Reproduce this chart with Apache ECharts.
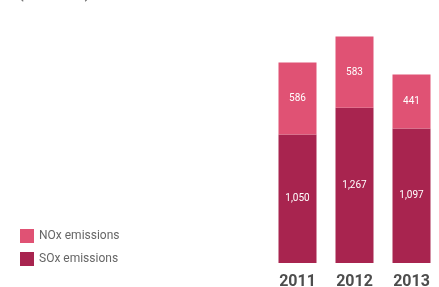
<!DOCTYPE html>
<html>
<head>
<meta charset="utf-8">
<script src="https://cdn.jsdelivr.net/npm/echarts@6/dist/echarts.min.js"></script>
<style>
  html, body { margin: 0; padding: 0; background: #fff; }
  #chart { width: 439px; height: 287px; }
</style>
</head>
<body>
<div id="chart"></div>
<script>
// ── Data ──────────────────────────────────────────────────────────────────
const YEARS = ['2011', '2012', '2013']
const SOX = [1050, 1267, 1097]
const NOX = [586, 583, 441]

const COND = '"Roboto", sans-serif'
const fmt = (v) => v.toLocaleString('en-US')

const chart = echarts.init(document.getElementById('chart'))

chart.setOption({
  animation: false,
  graphic: [
    {
      type: 'text',
      left: 17,
      top: -18,
      style: { text: '(tonnes)', fontSize: 20, fill: '#777', fontFamily: COND }
    }
  ],
  legend: {
    orient: 'vertical',
    left: 15,
    top: 224,
    itemWidth: 14,
    itemHeight: 14,
    itemGap: 9,
    icon: 'rect',
    data: ['NOx emissions', 'SOx emissions'],
    textStyle: { color: '#666', fontSize: 12, fontFamily: COND }
  },
  grid: { left: 269, width: 171, top: 18, bottom: 24, outerBoundsMode: 'none', containLabel: false },
  xAxis: {
    type: 'category',
    data: YEARS,
    axisLine: { show: false },
    axisTick: { show: false },
    axisLabel: {
      color: '#4d4d4d',
      fontSize: 16,
      fontWeight: 'bold',
      fontFamily: COND,
      margin: 11
    }
  },
  yAxis: {
    type: 'value',
    min: 0,
    max: 2000,
    show: false,
    splitLine: { show: false }
  },
  series: [
    {
      name: 'SOx emissions',
      type: 'bar',
      stack: 'em',
      barWidth: 38,
      data: SOX,
      itemStyle: { color: '#A8244F' },
      label: {
        show: true,
        position: 'inside',
        color: '#fff',
        fontSize: 10,
        fontFamily: COND,
        formatter: (p) => fmt(p.value)
      }
    },
    {
      name: 'NOx emissions',
      type: 'bar',
      stack: 'em',
      barWidth: 38,
      data: NOX,
      itemStyle: { color: '#E05274' },
      label: {
        show: true,
        position: 'inside',
        color: '#fff',
        fontSize: 10,
        fontFamily: COND,
        formatter: (p) => fmt(p.value)
      }
    }
  ]
})
</script>
</body>
</html>
